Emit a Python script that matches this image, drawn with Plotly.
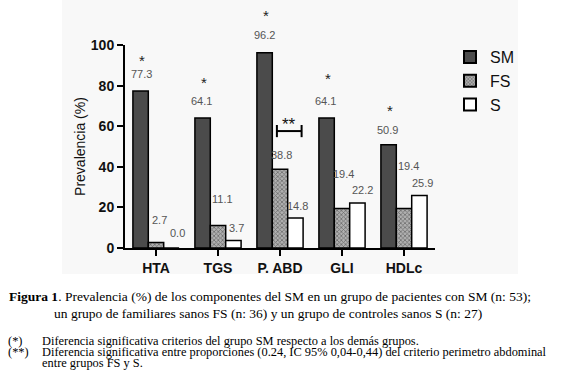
import plotly.graph_objects as go

categories = ["HTA", "TGS", "P. ABD", "GLI", "HDLc"]
sm_values = [77.3, 64.1, 96.2, 64.1, 50.9]
fs_values = [2.7, 11.1, 38.8, 19.4, 19.4]
s_values = [0.0, 3.7, 14.8, 22.2, 25.9]
series_names = ["SM", "FS", "S"]
sig_sm = [True, True, True, True, True]
y_ticks = [0, 20, 40, 60, 80, 100]

caption_1 = "<b>Figura 1</b>. Prevalencia (%) de los componentes del SM en un grupo de pacientes con SM (n: 53);"
caption_2 = "un grupo de familiares sanos FS (n: 36) y un grupo de controles sanos S (n: 27)"
notes = [
    ("(*)", "Diferencia significativa criterios del grupo SM respecto a los demás grupos."),
    ("(**)", "Diferencia significativa entre proporciones (0.24, IC 95% 0,04-0,44) del criterio perimetro abdominal"),
    ("", "entre grupos FS y S."),
]

# ---- layout geometry (pixels) ----
W, H = 578, 379
L, R, T, B = 125, 143, 45, 131
PW, PH = W - L - R, H - T - B
BARGAP = 0.255
slot = PW / len(categories)
bar_px = slot * (1 - BARGAP) / 3


def px_to_paper(px, py):
    return (px - L) / PW, (H - B - py) / PH


fig = go.Figure()
fig.add_trace(go.Bar(x=categories, y=sm_values, name=series_names[0],
                     marker=dict(color="#4b4b4b", line=dict(color="#000", width=1.5))))
fig.add_trace(go.Bar(x=categories, y=fs_values, name=series_names[1],
                     marker=dict(color="#9a9a9a", line=dict(color="#000", width=1.5),
                                 pattern=dict(shape="x", fgcolor="#2a2a2a", bgcolor="#b0b0b0",
                                              size=3, solidity=0.45))))
fig.add_trace(go.Bar(x=categories, y=s_values, name=series_names[2],
                     marker=dict(color="#ffffff", line=dict(color="#000", width=1.5))))

# label offsets (style): (extra x px, y px above bar top)
sm_off = [(1, 17), (-1, 17), (0, 18), (-1, 17), (-1, 15)]
fs_off = [(3, 23), (4, 26), (1, 14), (1, 35), (4, 43)]
s_off = [(6, 15), (3, 12), (2, 12), (5, 13), (3, 12)]
star_off = [34, 38, 40, 42, 37]

annotations = []
label_font = dict(family="Liberation Sans, Arial", size=11, color="#555555")
for i, c in enumerate(categories):
    for vals, offs, k in ((sm_values, sm_off, -1), (fs_values, fs_off, 0), (s_values, s_off, 1)):
        annotations.append(dict(x=c, y=vals[i], xref="x", yref="y", text=f"{vals[i]:.1f}",
                                showarrow=False, font=label_font,
                                xshift=k * bar_px + offs[i][0], yshift=offs[i][1]))
    if sig_sm[i]:
        annotations.append(dict(x=c, y=sm_values[i], xref="x", yref="y", text="*",
                                showarrow=False,
                                font=dict(family="Liberation Sans, Arial", size=15, color="#222"),
                                xshift=-bar_px + 1, yshift=star_off[i] - 3))

# significance bracket between FS and S for P. ABD
idx = categories.index("P. ABD")
bw = (1 - BARGAP) / 3
bx0, bx1 = idx - 0.05, idx + bw + 0.1
by, cap = 57.6, 3.0
shapes = [
    dict(type="line", xref="x", yref="y", x0=bx0, x1=bx1, y0=by, y1=by, line=dict(color="#000", width=2)),
    dict(type="line", xref="x", yref="y", x0=bx0, x1=bx0, y0=by - cap, y1=by + cap, line=dict(color="#000", width=2)),
    dict(type="line", xref="x", yref="y", x0=bx1, x1=bx1, y0=by - cap, y1=by + cap, line=dict(color="#000", width=2)),
]
annotations.append(dict(x=(bx0 + bx1) / 2, y=by, xref="x", yref="y", text="**", showarrow=False,
                        font=dict(family="Liberation Sans, Arial", size=17, color="#111"), yshift=7))

# caption
cap_font = dict(family="Liberation Serif, Times New Roman", size=13.5, color="#000")
for txt, cx, cy in ((caption_1, 270, 296), (caption_2, 268, 313)):
    px_, py_ = px_to_paper(cx, cy)
    annotations.append(dict(x=px_, y=py_, xref="paper", yref="paper", text=txt, showarrow=False,
                            font=cap_font, xanchor="center", yanchor="middle"))
note_font = dict(family="Liberation Serif, Times New Roman", size=12.4, color="#000")
note_rows = [341, 352, 363]
for j, (mark, txt) in enumerate(notes):
    yy = note_rows[j]
    if mark:
        px_, py_ = px_to_paper(6, yy)
        annotations.append(dict(x=px_, y=py_, xref="paper", yref="paper", text=mark, showarrow=False,
                                font=note_font, xanchor="left", yanchor="middle"))
    px_, py_ = px_to_paper(40, yy)
    annotations.append(dict(x=px_, y=py_, xref="paper", yref="paper", text=txt, showarrow=False,
                            font=note_font, xanchor="left", yanchor="middle"))

bx_a, by_a = px_to_paper(62, 0)
bx_b, by_b = px_to_paper(518, 274)
shapes.insert(0, dict(type="rect", xref="paper", yref="paper", x0=bx_a, x1=bx_b, y0=by_b, y1=by_a,
                      fillcolor="#f8f8f8", line=dict(width=0), layer="below"))

lx, ly = px_to_paper(450, 40)
fig.update_layout(
    width=W, height=H,
    margin=dict(l=L, r=R, t=T, b=B, pad=0),
    paper_bgcolor="#ffffff", plot_bgcolor="rgba(0,0,0,0)",
    barmode="group", bargap=BARGAP, bargroupgap=0,
    showlegend=True,
    legend=dict(x=lx, y=ly, xanchor="left", yanchor="top",
                font=dict(family="Liberation Sans, Arial", size=16, color="#111"),
                bgcolor="rgba(0,0,0,0)", tracegroupgap=0, itemsizing="constant"),
    annotations=annotations, shapes=shapes,
    xaxis=dict(type="category", range=[-0.5, len(categories) - 0.5], showgrid=False,
               showline=True, linecolor="#000", linewidth=2,
               ticks="outside", ticklen=6, tickwidth=2, tickcolor="#000",
               tickfont=dict(family="Liberation Sans, Arial", size=14, color="#111"),
               tickvals=categories, ticktext=[f"<b>{c}</b>" for c in categories], zeroline=False),
    yaxis=dict(range=[0, 100], tickvals=y_ticks, ticktext=[f"<b>{v}</b>" for v in y_ticks],
               showgrid=False, zeroline=False, showline=True, linecolor="#000", linewidth=2,
               ticks="outside", ticklen=6, tickwidth=2, tickcolor="#000",
               tickfont=dict(family="Liberation Sans, Arial", size=14, color="#111"),
               title=dict(text="Prevalencia (%)", standoff=2,
                          font=dict(family="Liberation Sans, Arial", size=14, color="#111"))),
)

fig.write_html("out.html", config={"displayModeBar": False},
               post_script="document.body.style.margin='0';document.body.style.padding='0';")
